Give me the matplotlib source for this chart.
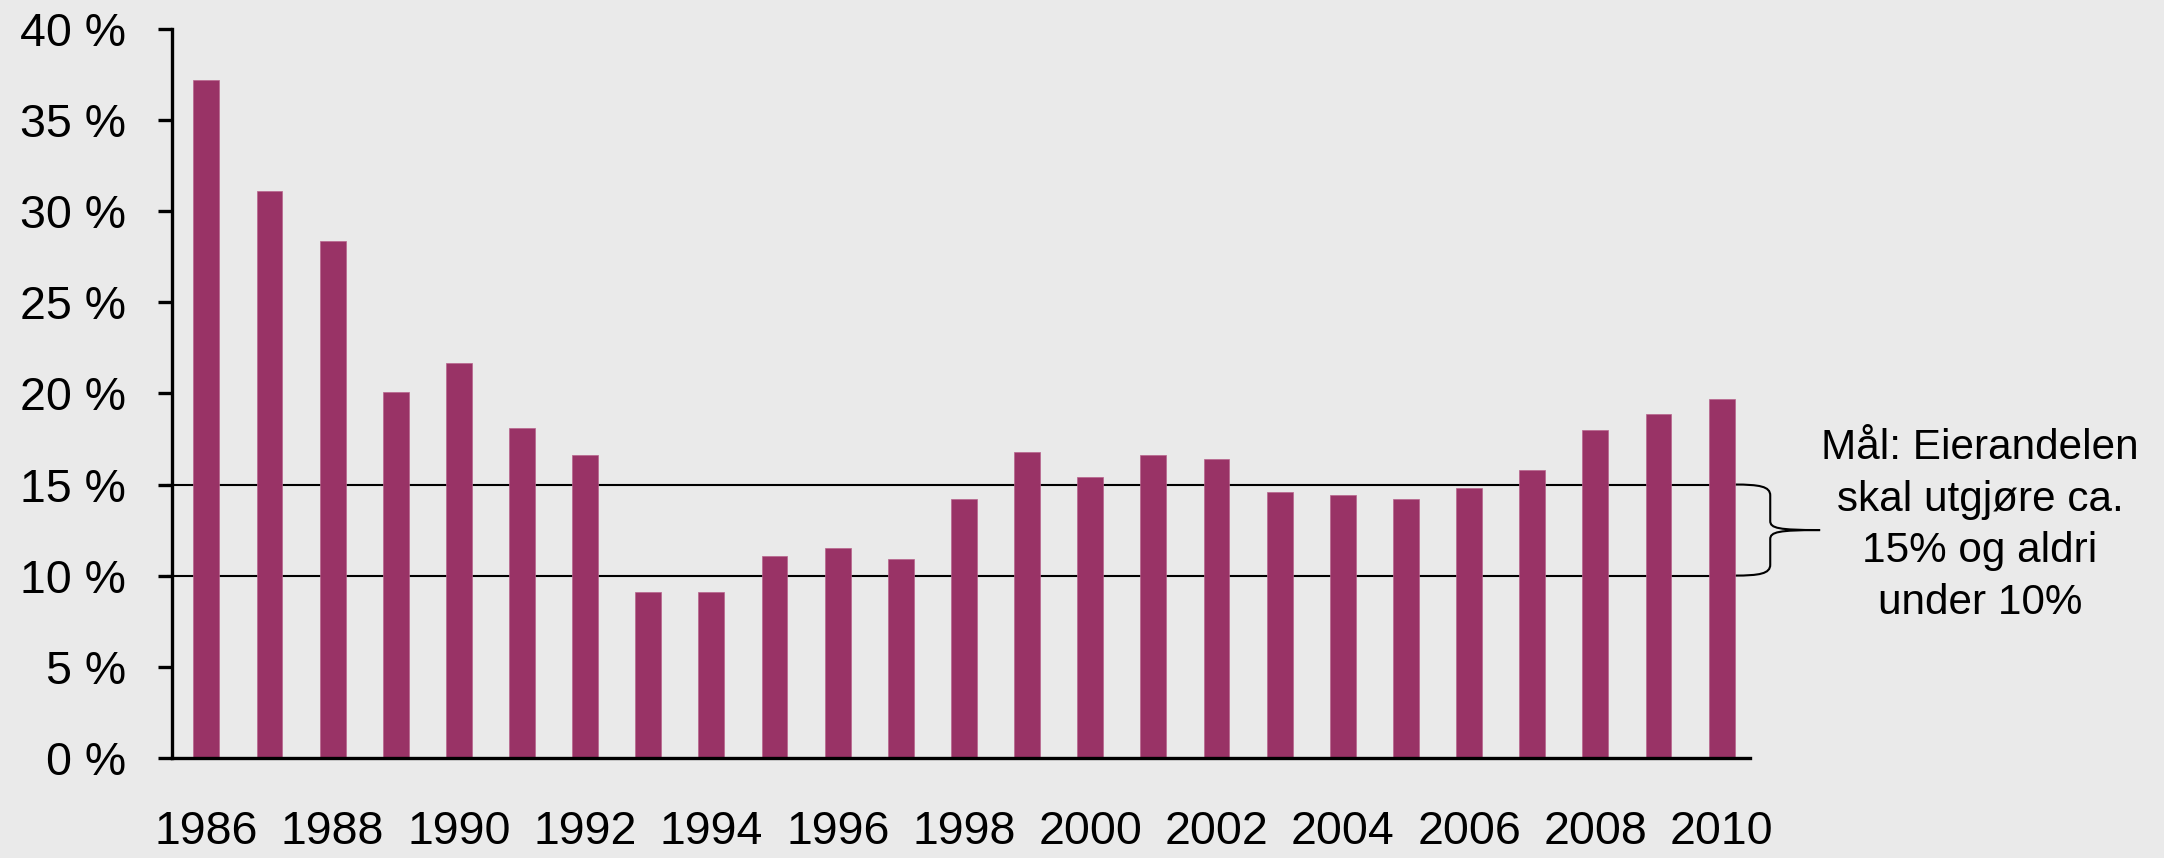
import numpy as np
import matplotlib
matplotlib.use('Agg')
from matplotlib import pyplot as plt
from matplotlib.path import Path
from matplotlib import patches

plt.rcParams['font.family'] = ['Liberation Sans', 'DejaVu Sans']

years = list(range(1986, 2011))
share = [37.2, 31.1, 28.4, 20.1, 21.7, 18.1, 16.6, 9.1, 9.1, 11.1,
         11.5, 10.9, 14.2, 16.8, 15.4, 16.6, 16.4, 14.6, 14.4, 14.2,
         14.8, 15.8, 18.0, 18.9, 19.7]
target_low = 10
target_high = 15
yticks = [0, 5, 10, 15, 20, 25, 30, 35, 40]
note = 'Mål: Eierandelen\nskal utgjøre ca.\n15% og aldri\nunder 10%'

bg = '#eaeaea'
bar_color = '#993366'

fig = plt.figure(figsize=(21.64, 8.58), dpi=100, facecolor=bg)
ax = fig.add_axes([0.0795, 0.1169, 0.7292, 0.849])
ax.set_facecolor(bg)

x = np.arange(len(years))
ax.bar(x, share, width=0.41, color=bar_color, edgecolor='#b8648c',
       linewidth=0.5, zorder=3)

# target lines, drawn behind the bars
line_end = 24.2
for lvl in (target_low, target_high):
    ax.plot([-0.6, line_end], [lvl, lvl], color='black', lw=1.5, zorder=2,
            clip_on=False)

# curly brace joining the two target lines
xm, xt = 24.77, 25.56
ym = (target_low + target_high) / 2
verts = [(line_end, target_high),
         (24.6, target_high), (xm, target_high - 0.1), (xm, target_high - 0.6),
         (xm, ym + 0.5),
         (xm, ym + 0.1), (24.9, ym), (xt, ym),
         (24.9, ym), (xm, ym - 0.1), (xm, ym - 0.5),
         (xm, target_low + 0.6),
         (xm, target_low + 0.1), (24.6, target_low), (line_end, target_low)]
codes = [Path.MOVETO,
         Path.CURVE4, Path.CURVE4, Path.CURVE4,
         Path.LINETO,
         Path.CURVE4, Path.CURVE4, Path.CURVE4,
         Path.CURVE4, Path.CURVE4, Path.CURVE4,
         Path.LINETO,
         Path.CURVE4, Path.CURVE4, Path.CURVE4]
brace = patches.PathPatch(Path(verts, codes), fill=False, lw=1.5,
                          edgecolor='black', clip_on=False, zorder=2)
ax.add_patch(brace)

fig.text(0.915, 0.3875, note, ha='center', va='center', fontsize=30.4,
         linespacing=1.37)

ax.set_xlim(-0.543, 24.45)
ax.set_ylim(0, 40)
ax.set_yticks(yticks)
ax.set_yticklabels(['{} %'.format(v) for v in yticks])
ax.set_xticks(x[::2])
ax.set_xticklabels([str(y) for y in years[::2]])

for side in ('top', 'right'):
    ax.spines[side].set_visible(False)
for side in ('left', 'bottom'):
    ax.spines[side].set_linewidth(2.4)
    ax.spines[side].set_zorder(4)

ax.tick_params(axis='y', direction='out', length=10, width=2.4,
               labelsize=33.5, pad=23)
ax.tick_params(axis='x', length=0, labelsize=33.5, pad=38)

fig.savefig('out.png', dpi=100, facecolor=bg)
